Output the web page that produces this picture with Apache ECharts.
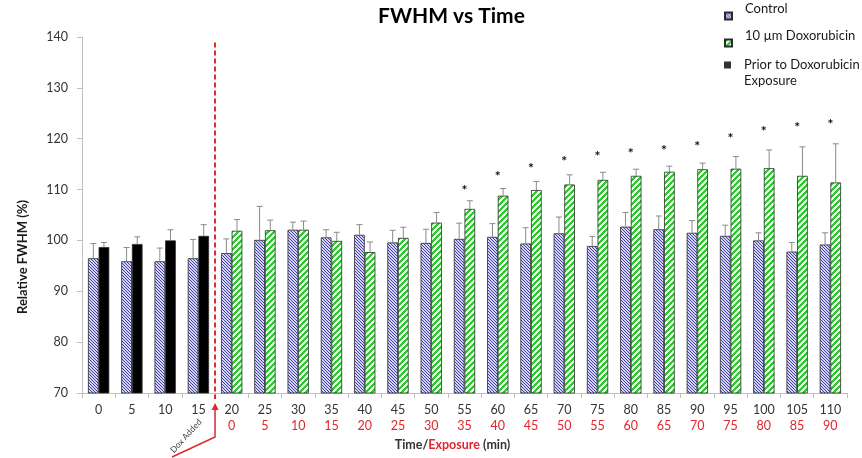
<!DOCTYPE html>
<html>
<head>
<meta charset="utf-8">
<script src="https://cdn.jsdelivr.net/npm/echarts@6/dist/echarts.min.js"></script>
<style>
html,body{margin:0;padding:0;background:#fff;}
#c{width:862px;height:458px;}
</style>
</head>
<body>
<div id="c"></div>
<script>
// ---------- data ----------
const categories = ['0','5','10','15','20','25','30','35','40','45','50','55','60','65','70','75','80','85','90','95','100','105','110'];
const exposureLabels = ['','','','','0','5','10','15','20','25','30','35','40','45','50','55','60','65','70','75','80','85','90'];
const yTicks = { min: 70, max: 140, interval: 10 };

const control    = [96.5, 95.9, 95.9, 96.5, 97.5, 100.1, 102.1, 100.6, 101.1, 99.6, 99.5, 100.3, 100.7, 99.4, 101.4, 98.9, 102.7, 102.2, 101.5, 100.9, 100.0, 97.8, 99.2];
const controlErr = [2.9, 2.7, 2.6, 3.7, 2.8, 6.6, 1.5, 1.5, 2.0, 2.4, 2.7, 3.1, 2.6, 3.1, 3.2, 1.9, 2.8, 2.6, 2.4, 2.1, 1.5, 1.8, 2.3];

const prior      = [98.7, 99.3, 100.0, 100.9, null, null, null, null, null, null, null, null, null, null, null, null, null, null, null, null, null, null, null];
const priorErr   = [0.9, 1.4, 2.1, 2.2, null, null, null, null, null, null, null, null, null, null, null, null, null, null, null, null, null, null, null];

const dox        = [null, null, null, null, 101.9, 102.0, 102.1, 99.9, 97.7, 100.5, 103.5, 106.2, 108.8, 109.9, 111.0, 111.9, 112.7, 113.5, 114.0, 114.1, 114.2, 112.7, 111.4];
const doxErr     = [null, null, null, null, 2.2, 2.0, 1.7, 1.7, 2.0, 2.1, 2.0, 1.6, 1.4, 1.7, 1.9, 1.5, 1.3, 1.1, 1.2, 2.4, 3.6, 5.7, 7.6];

const stars      = [null, null, null, null, null, null, null, null, null, null, null, 110.5, 113.2, 114.7, 116.2, 117.0, 117.7, 118.3, 119.0, 120.6, 122.0, 122.7, 123.3];

const doxAddedAfterIndex = 3;   // the treatment starts after this category
const doxLineTop = 138.9;

// ---------- styles ----------
const FONT = 'Lato';
const RED = '#e0262d';
const BAR_FRAC = 0.32;

function makePattern(size, fn) {
  const c = document.createElement('canvas');
  c.width = size; c.height = size;
  const ctx = c.getContext('2d');
  for (let y = 0; y < size; y++) {
    for (let x = 0; x < size; x++) {
      ctx.fillStyle = fn(x, y);
      ctx.fillRect(x, y, 1, 1);
    }
  }
  return { image: c, repeat: 'repeat' };
}
const controlFill = makePattern(3, (x, y) => (((x - y) % 3 + 3) % 3 === 0) ? '#4040a8' : '#d4d4f4');
const doxFill = makePattern(6, (x, y) => ((x + y) % 6 < 3) ? '#30c830' : '#f6fff6');

// treated series = prior (black) for first categories, doxorubicin afterwards
const treatedData = categories.map((c, i) => {
  if (prior[i] != null) return { value: prior[i], itemStyle: { color: '#000000' } };
  return dox[i];
});

function errData(vals, errs) {
  const out = [];
  vals.forEach((v, i) => { if (v != null && errs[i] != null) out.push([i, v, errs[i]]); });
  return out;
}
const controlErrData = errData(control, controlErr);
const treatedErrData = errData(categories.map((c, i) => prior[i] != null ? prior[i] : dox[i]),
                               categories.map((c, i) => priorErr[i] != null ? priorErr[i] : doxErr[i]));
const starData = [];
stars.forEach((v, i) => { if (v != null) starData.push([i, v]); });

function errRender(side) {
  return function (params, api) {
    const i = api.value(0), v = api.value(1), e = api.value(2);
    const base = api.coord([i, v]);
    const top = api.coord([i, v + e]);
    const bw = api.size([1, 0])[0] * BAR_FRAC;
    const cx = base[0] + side * bw / 2;
    const st = { stroke: '#8a8a8a', lineWidth: 1 };
    return {
      type: 'group',
      children: [
        { type: 'line', shape: { x1: cx, y1: base[1], x2: cx, y2: top[1] }, style: st },
        { type: 'line', shape: { x1: cx - 3, y1: top[1], x2: cx + 3, y2: top[1] }, style: st }
      ]
    };
  };
}

const chart = echarts.init(document.getElementById('c'), null, { renderer: 'canvas' });

const legendBase = {
  orient: 'vertical', left: 724, padding: 0, itemWidth: 7, itemHeight: 7,
  selectedMode: false
};

const option = {
  animation: false,
  backgroundColor: '#ffffff',
  title: {
    text: 'FWHM vs Time', left: 378, top: 6, padding: 0,
    textStyle: { fontFamily: FONT, fontSize: 21, fontWeight: 'bold', color: '#000' }
  },
  legend: [
    Object.assign({}, legendBase, {
      top: 2,
      data: [{ name: 'Control', icon: 'rect' }],
      formatter: (n) => n + '\n ',
      textStyle: { fontFamily: FONT, fontSize: 13, color: '#1a1a1a', lineHeight: 14, padding: [0, 0, 0, 8] }
    }),
    Object.assign({}, legendBase, {
      top: 29,
      data: [{ name: '10 µm Doxorubicin', icon: 'rect' }],
      formatter: (n) => n + '\n ',
      textStyle: { fontFamily: FONT, fontSize: 13, color: '#1a1a1a', lineHeight: 14, padding: [0, 0, 0, 8] }
    }),
    Object.assign({}, legendBase, {
      top: 41,
      data: [{ name: 'Prior to Doxorubicin Exposure', icon: 'rect' }],
      formatter: () => ' \nPrior to Doxorubicin\nExposure',
      textStyle: { fontFamily: FONT, fontSize: 13, color: '#1a1a1a', lineHeight: 16, padding: [0, 0, 0, 8] }
    })
  ],
  grid: { left: 82, right: 15, top: 37, bottom: 65 },
  xAxis: {
    type: 'category',
    data: categories,
    axisLine: { lineStyle: { color: '#bfbfbf' } },
    axisTick: { show: true, length: 5, lineStyle: { color: '#bfbfbf' } },
    axisLabel: {
      interval: 0, margin: 9,
      formatter: (v, i) => exposureLabels[i] ? '{a|' + v + '}\n{b|' + exposureLabels[i] + '}' : '{a|' + v + '}',
      rich: {
        a: { fontFamily: FONT, fontSize: 12.5, color: '#333', lineHeight: 16 },
        b: { fontFamily: FONT, fontSize: 12.5, color: RED, lineHeight: 16 }
      }
    },
    name: '{a|Time/}{b|Exposure}{a| (min)}',
    nameLocation: 'middle',
    nameGap: 45,
    nameTextStyle: {
      padding: [0, 24, 0, 0],
      rich: {
        a: { fontFamily: FONT, fontSize: 12.5, fontWeight: 'bold', color: '#333' },
        b: { fontFamily: FONT, fontSize: 12.5, fontWeight: 'bold', color: RED }
      }
    }
  },
  yAxis: {
    type: 'value',
    min: yTicks.min, max: yTicks.max, interval: yTicks.interval,
    axisLine: { show: true, lineStyle: { color: '#bfbfbf' } },
    axisTick: { show: true, length: 5, lineStyle: { color: '#bfbfbf' } },
    splitLine: { show: false },
    axisLabel: { margin: 14, fontFamily: FONT, fontSize: 12.5, color: '#333' },
    name: 'Relative FWHM (%)',
    nameLocation: 'middle',
    nameGap: 53,
    nameTextStyle: { fontFamily: FONT, fontSize: 13, fontWeight: 'bold', color: '#1a1a1a', padding: [0, 84, 0, 0] }
  },
  series: [
    {
      name: 'Control', type: 'bar', data: control,
      barWidth: (BAR_FRAC * 100) + '%', barGap: '0%',
      itemStyle: { color: controlFill, borderColor: '#2a2a2a', borderWidth: 0.8 }
    },
    {
      name: '10 µm Doxorubicin', type: 'bar', data: treatedData,
      barWidth: (BAR_FRAC * 100) + '%', barGap: '0%',
      itemStyle: { color: doxFill, borderColor: '#2a2a2a', borderWidth: 0.8 }
    },
    {
      name: 'Prior to Doxorubicin Exposure', type: 'scatter', data: [],
      itemStyle: { color: '#000000' }
    },
    {
      type: 'custom', name: 'ctrlErr', data: controlErrData, renderItem: errRender(-1), z: 3, silent: true
    },
    {
      type: 'custom', name: 'trtErr', data: treatedErrData, renderItem: errRender(1), z: 3, silent: true
    },
    {
      type: 'custom', name: 'stars', data: starData, z: 4, silent: true,
      renderItem: (params, api) => {
        const p = api.coord([api.value(0), api.value(1)]);
        return {
          type: 'text', x: p[0], y: p[1] + 3,
          style: { text: '*', font: 'bold 14px ' + FONT, fill: '#111', align: 'center', verticalAlign: 'middle' }
        };
      }
    },
    {
      type: 'custom', name: 'doxAdded', data: [[doxAddedAfterIndex, doxLineTop]], z: 5, silent: true, clip: false,
      renderItem: (params, api) => {
        const i = api.value(0);
        const top = api.coord([i, api.value(1)]);
        const bottom = api.coord([i, yTicks.min])[1];
        const x = top[0] + api.size([1, 0])[0] / 2;
        return {
          type: 'group',
          children: [
            { type: 'line', shape: { x1: x, y1: top[1], x2: x, y2: bottom + 6 },
              style: { stroke: RED, lineWidth: 2, lineDash: [5, 3] } },
            { type: 'polyline', shape: { points: [[x - 43, bottom + 64], [x, bottom + 44], [x, bottom + 15]] },
              style: { stroke: RED, lineWidth: 1.5, fill: null } },
            { type: 'polygon', shape: { points: [[x, bottom + 10], [x - 3.5, bottom + 17], [x + 3.5, bottom + 17]] },
              style: { fill: RED } },
            { type: 'text', x: x - 29, y: bottom + 43, rotation: 48 * Math.PI / 180,
              style: { text: 'Dox Added', font: '8.5px ' + FONT, fill: '#404040', align: 'center', verticalAlign: 'middle' } }
          ]
        };
      }
    }
  ]
};
chart.setOption(option);
</script>
</body>
</html>
